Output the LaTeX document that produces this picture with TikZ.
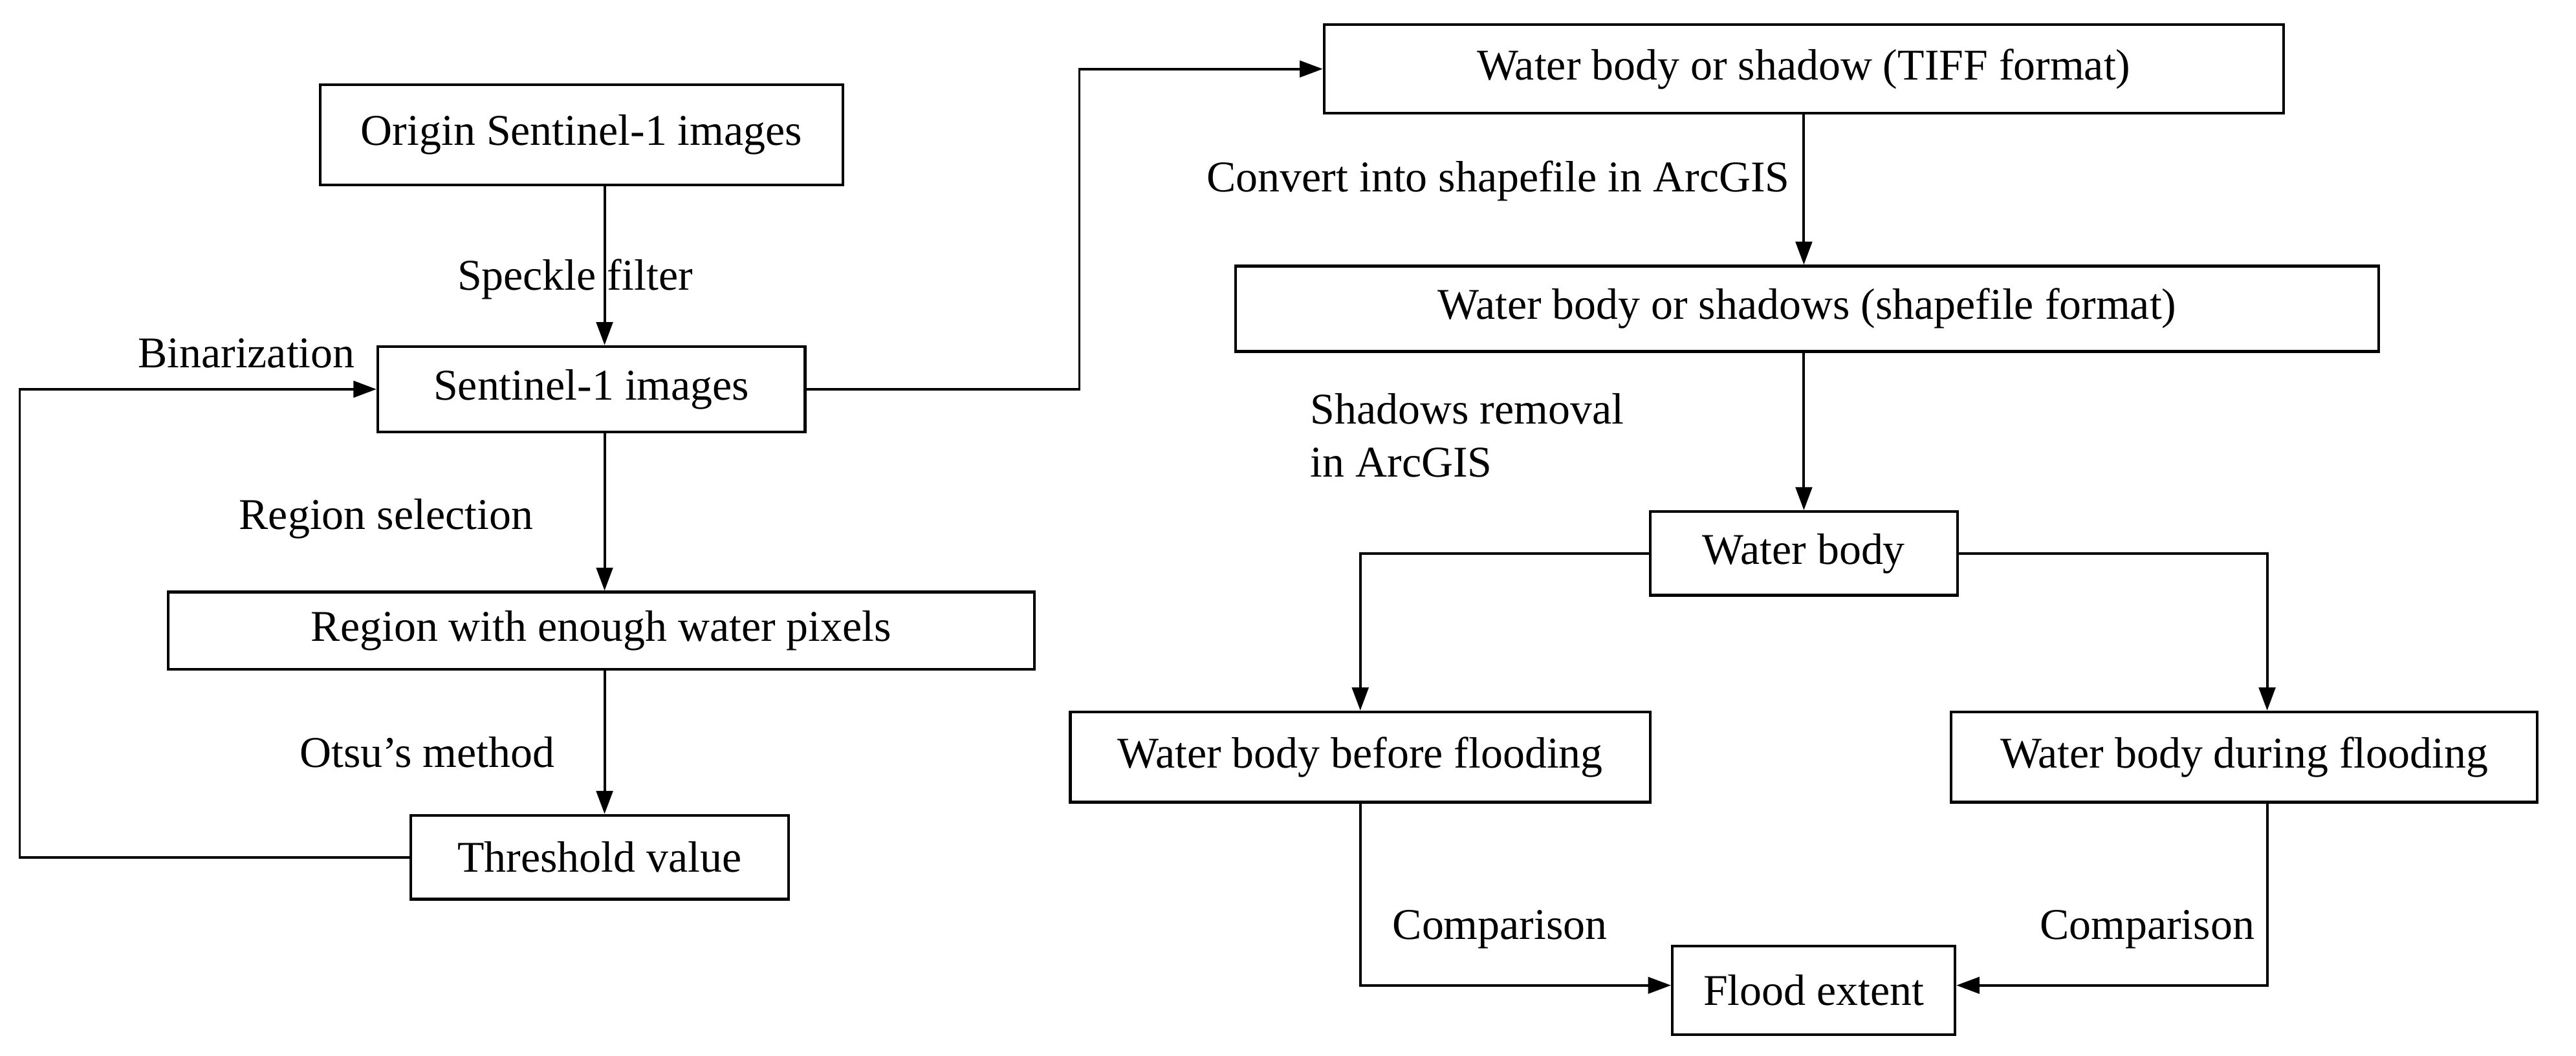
\documentclass[tikz,border=0pt]{standalone}
\usepackage{fontspec}
\setmainfont{Liberation Serif}
\usetikzlibrary{arrows.meta}
\begin{document}
\begin{tikzpicture}[x=0.025cm,y=-0.025cm,
  box/.style={draw,line width=1.2pt,minimum height=1.3cm,inner sep=0pt,font=\fontsize{19}{23}\selectfont},
  lab/.style={font=\fontsize{19}{23}\selectfont,align=left},
  arr/.style={line width=1.1pt,-{Triangle[length=0.35cm,width=0.25cm]}},
  ln/.style={line width=1.1pt}]
\useasboundingbox (0,0) rectangle (1568,643);
\node[box,minimum width=318*0.025cm,minimum height=61*0.025cm] (orig) at (354,82) {Origin Sentinel-1 images};
\node[box,minimum width=260*0.025cm,minimum height=52*0.025cm] (sent) at (360,237) {Sentinel-1 images};
\node[box,minimum width=527*0.025cm,minimum height=47*0.025cm] (reg) at (366,384) {Region with enough water pixels};
\node[box,minimum width=230*0.025cm,minimum height=51*0.025cm] (thr) at (365,522) {Threshold value};
\node[box,minimum width=584*0.025cm,minimum height=54*0.025cm] (tiff) at (1098,42) {Water body or shadow (TIFF format)};
\node[box,minimum width=696*0.025cm,minimum height=52*0.025cm] (shp) at (1100,188) {Water body or shadows (shapefile format)};
\node[box,minimum width=187*0.025cm,minimum height=51*0.025cm] (wb) at (1098,337) {Water body};
\node[box,minimum width=353*0.025cm,minimum height=55*0.025cm] (bef) at (828,461) {Water body before flooding};
\node[box,minimum width=357*0.025cm,minimum height=55*0.025cm] (dur) at (1366,461) {Water body during flooding};
\node[box,minimum width=172*0.025cm,minimum height=54*0.025cm] (fl) at (1104,603) {Flood extent};

\node[lab] at (350,170) {Speckle filter};
\node[lab] at (150,215) {Binarization};
\node[lab] at (235,316) {Region selection};
\node[lab] at (260,458) {Otsu’s method};
\node[lab] at (912,110) {Convert into shapefile in ArcGIS};
\node[lab] at (893,265) {Shadows removal\\in ArcGIS};
\node[lab] at (913,566) {Comparison};
\node[lab] at (1307,566) {Comparison};

\draw[arr] (orig.south -| 368,0) -- (sent.north -| 368,0);
\draw[arr] (sent.south -| 368,0) -- (reg.north -| 368,0);
\draw[arr] (reg.south -| 368,0) -- (thr.north -| 368,0);
\draw[arr] (thr.west) -- (12,522) -- (12,237) -- (sent.west);
\draw[arr] (sent.east) -- (657,237) -- (657,42) -- (tiff.west);
\draw[arr] (tiff.south) -- (shp.north -| tiff.south);
\draw[arr] (shp.south -| wb.north) -- (wb.north);
\draw[arr] (wb.west) -- (828,337) -- (bef.north);
\draw[arr] (wb.east) -- (1380,337) -- (dur.north -| 1380,0);
\draw[arr] (bef.south) -- (828,600) -- (fl.west |- 0,600);
\draw[arr] (dur.south -| 1380,0) -- (1380,600) -- (fl.east |- 0,600);
\end{tikzpicture}
\end{document}
